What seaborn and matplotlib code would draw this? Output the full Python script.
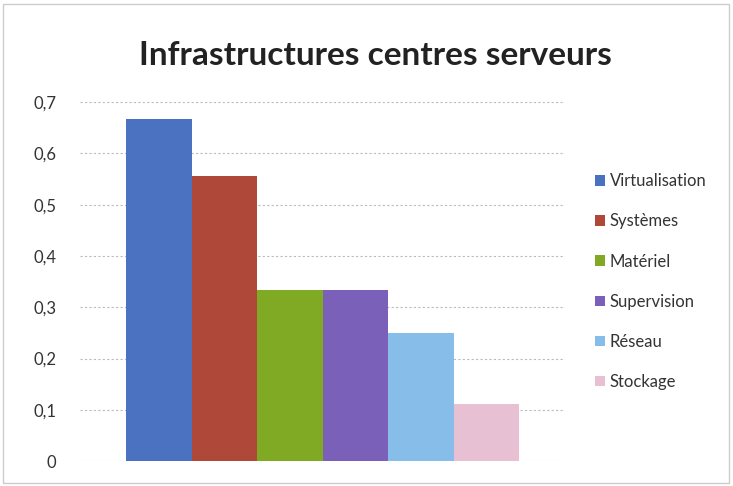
import matplotlib
matplotlib.use("Agg")
import matplotlib.pyplot as plt
import seaborn as sns
import pandas as pd
from matplotlib.patches import Rectangle

# data
categories = ["Virtualisation", "Systèmes", "Matériel", "Supervision", "Réseau", "Stockage"]
values = [0.667, 0.556, 0.333, 0.333, 0.25, 0.111]
colors = ["#4a72c0", "#b0483a", "#80aa24", "#7a60b8", "#86bde9", "#e8c0d4"]
yticks = [0, 0.1, 0.2, 0.3, 0.4, 0.5, 0.6, 0.7]
ytick_labels = ["0", "0,1", "0,2", "0,3", "0,4", "0,5", "0,6", "0,7"]

df = pd.DataFrame({"groupe": [""] * len(categories), "categorie": categories, "valeur": values})

sns.set_style("white")
plt.rcParams["font.family"] = ["Lato", "DejaVu Sans"]

fig = plt.figure(figsize=(7.33, 4.86), dpi=100)
ax = fig.add_axes([0.109, 0.051, 0.662, 0.739])

sns.barplot(data=df, x="groupe", y="valeur", hue="categorie", hue_order=categories,
            palette=colors, width=0.81, saturation=1, linewidth=0, ax=ax, legend=True)

ax.set_ylim(0, 0.7)
ax.set_xlim(-0.5, 0.5)
ax.set_yticks(yticks)
ax.set_yticklabels(ytick_labels, fontsize=12, color="#333333")
ax.set_xticks([])
ax.set_xlabel("")
ax.set_ylabel("")
ax.tick_params(axis="y", length=0, pad=17)
ax.yaxis.grid(True, linestyle=(0, (2, 2)), color="#bbbbbb", linewidth=0.8)
ax.set_axisbelow(True)
for s in ax.spines.values():
    s.set_visible(False)

fig.suptitle("Infrastructures centres serveurs", x=0.512, y=0.915, fontsize=24,
             fontweight="bold", color="#222222")

leg = ax.legend(loc="center left", bbox_to_anchor=(1.03, 0.5), frameon=False,
                fontsize=12, labelspacing=1.45, handlelength=0.6, handleheight=0.6,
                handletextpad=0.3)
for t in leg.get_texts():
    t.set_color("#333333")

fig.patches.append(Rectangle((0.004, 0.006), 0.99, 0.985, transform=fig.transFigure,
                             fill=False, edgecolor="#cccccc", linewidth=1))

fig.savefig("out.png", dpi=100)
